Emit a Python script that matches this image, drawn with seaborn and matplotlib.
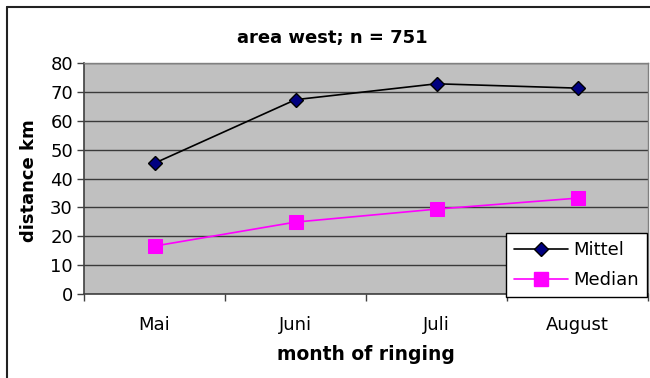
import matplotlib
matplotlib.use("Agg")
import matplotlib.pyplot as plt
from matplotlib.lines import Line2D
import seaborn as sns
import pandas as pd

# Ringing months and mean / median recovery distances (km)
months = ["Mai", "Juni", "Juli", "August"]
mittel = [45.3, 67.3, 72.8, 71.3]
median = [16.6, 24.9, 29.4, 33.2]
series_names = ["Mittel", "Median"]
y_ticks = [0, 10, 20, 30, 40, 50, 60, 70, 80]

df = pd.DataFrame({
    "month": months * 2,
    "pos": list(range(len(months))) * 2,
    "distance": mittel + median,
    "series": [series_names[0]] * len(months) + [series_names[1]] * len(months),
})

sns.set_theme(style="white")
plt.rcParams["font.family"] = ["DejaVu Sans"]
plt.rcParams["text.color"] = "black"
plt.rcParams["xtick.color"] = "black"
plt.rcParams["ytick.color"] = "black"
plt.rcParams["xtick.labelcolor"] = "black"
plt.rcParams["ytick.labelcolor"] = "black"

W, H = 650, 378
fig = plt.figure(figsize=(W / 100, H / 100), dpi=100)
ax = fig.add_axes([84 / W, 1 - 294 / H, (648 - 84) / W, (294 - 63) / H])
ax.set_facecolor("#C0C0C0")

palette = {"Mittel": "black", "Median": "#FF00FF"}
sns.lineplot(data=df, x="pos", y="distance", hue="series", palette=palette,
             style="series", markers={"Mittel": "D", "Median": "s"},
             dashes=False, linewidth=1.2, legend=False, ax=ax, zorder=3)

# marker styling per series
for line in ax.get_lines():
    if line.get_marker() == "D":
        line.set_markerfacecolor("#000080")
        line.set_markeredgecolor("black")
        line.set_markersize(7.5)
        line.set_markeredgewidth(1)
    elif line.get_marker() == "s":
        line.set_markerfacecolor("#FF00FF")
        line.set_markeredgecolor("#FF00FF")
        line.set_markersize(9.5)

TICK_FS = 13
LABEL_FS = 13

ax.set_xlim(-0.5, len(months) - 0.5)
ax.set_ylim(0, 80)
ax.set_yticks(y_ticks)
ax.set_yticklabels([str(v) for v in y_ticks], fontsize=TICK_FS)
ax.yaxis.grid(True, color="#3a3a3a", linewidth=1)
ax.set_axisbelow(True)

# tick marks at category boundaries, labels centered on categories
ax.set_xticks([i - 0.5 for i in range(len(months) + 1)])
ax.set_xticklabels([])
ax.set_xticks(range(len(months)), minor=True)
ax.set_xticklabels(months, minor=True, fontsize=TICK_FS)
ax.tick_params(axis="x", which="major", direction="out", length=5, width=1,
               color="#404040", bottom=True)
ax.tick_params(axis="x", which="minor", length=0, pad=16)
ax.tick_params(axis="y", direction="out", length=5, width=1,
               color="#404040", left=True, pad=3)
ax.set_xlabel("")
ax.set_ylabel("")

for side in ["left", "bottom"]:
    ax.spines[side].set_color("#404040")
    ax.spines[side].set_linewidth(1.2)
for side in ["top", "right"]:
    ax.spines[side].set_color("#808080")
    ax.spines[side].set_linewidth(1)

fig.text(332 / W, 1 - 38 / H, "area west; n = 751", ha="center", va="center",
         fontsize=13, fontweight="bold", color="black")
fig.text(366 / W, 1 - 355 / H, "month of ringing", ha="center", va="center",
         fontsize=LABEL_FS + 0.5, fontweight="bold", color="black")
fig.text(29 / W, 1 - 181 / H, "distance km", ha="center", va="center",
         rotation=90, fontsize=LABEL_FS, fontweight="bold", color="black")

# chart frame
fig.add_artist(Line2D([7 / W, 1], [1 - 7 / H, 1 - 7 / H], color="#222222", lw=1.5))
fig.add_artist(Line2D([7 / W, 7 / W], [0, 1 - 7 / H], color="#222222", lw=1.5))

handles = [
    Line2D([], [], color="black", lw=1.2, marker="D", markersize=7.5,
           markerfacecolor="#000080", markeredgecolor="black"),
    Line2D([], [], color="#FF00FF", lw=1.2, marker="s", markersize=9.5,
           markerfacecolor="#FF00FF", markeredgecolor="#FF00FF"),
]
leg = ax.legend(handles, series_names, loc="lower right",
                bbox_to_anchor=(647 / W, 1 - 297 / H), bbox_transform=fig.transFigure,
                frameon=True, fancybox=False, fontsize=TICK_FS, handlelength=3.0,
                borderpad=0.45, labelspacing=0.65, handletextpad=0.3,
                borderaxespad=0)
leg.get_frame().set_edgecolor("black")
leg.get_frame().set_linewidth(1)
leg.get_frame().set_facecolor("white")
leg.get_frame().set_alpha(1)
leg.set_zorder(10)

fig.savefig("out.png", dpi=100, facecolor="white")
